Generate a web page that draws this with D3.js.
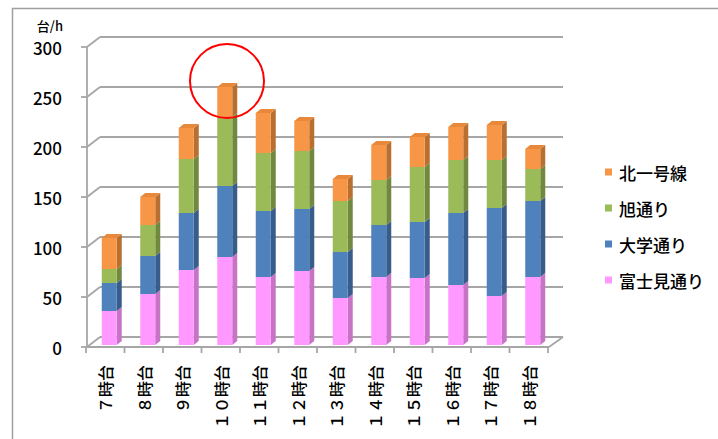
<!DOCTYPE html>
<html>
<head>
<meta charset="utf-8">
<script src="https://cdn.jsdelivr.net/npm/d3@7"></script>
<style>
  body { margin: 0; background: #fff; }
  svg text { font-family: "Noto Sans CJK JP", "Noto Sans", sans-serif; fill: #000; font-weight: 500; }
</style>
</head>
<body>
<svg id="chart" width="718" height="439"></svg>
<script>
"use strict";

// 時間帯 (x labels)
var hours = ['７時台', '８時台', '９時台', '１０時台', '１１時台', '１２時台',
  '１３時台', '１４時台', '１５時台', '１６時台', '１７時台', '１８時台'];
// 台/h per road
var fujimi = [34, 51, 75, 88, 68, 74, 47, 68, 67, 60, 49, 68];
var daigaku = [28, 38, 57, 71, 66, 62, 46, 52, 56, 72, 88, 76];
var asahi = [14, 31, 54, 69, 58, 58, 51, 45, 55, 53, 48, 32];
var kita = [31, 28, 31, 30, 40, 30, 22, 35, 30, 33, 35, 20];
var yTicks = [0, 50, 100, 150, 200, 250, 300];

var keys = ['fujimi', 'daigaku', 'asahi', 'kita'];
var names = { fujimi: '富士見通り', daigaku: '大学通り', asahi: '旭通り', kita: '北一号線' };
var colors = {
  fujimi: { front: '#ff99ff', side: '#c774c7', top: '#f08cf0' },
  daigaku: { front: '#4f81bd', side: '#385d8a', top: '#4674ac' },
  asahi: { front: '#9bbb59', side: '#71893f', top: '#8eab50' },
  kita: { front: '#f79646', side: '#b96f30', top: '#e8883a' }
};

function make_chart() {
  var svg = d3.select('#chart');
  var table = hours.map(function (h, i) {
    return { hour: h, fujimi: fujimi[i], daigaku: daigaku[i], asahi: asahi[i], kita: kita[i] };
  });

  var wallDx = 13, wallDy = -10;
  var barDx = 4, barDy = -2, barW = 15, depthX = 5, depthY = -4;
  var grid = '#a6a6a6';

  var _x = d3.scaleBand().domain(hours).range([86, 548]).padding(0);
  var _y = d3.scaleLinear().domain([0, 300]).range([347, 47]);

  // outer frame
  svg.append('rect')
    .attr('x', 12.5).attr('y', 8.5)
    .attr('width', 760).attr('height', 480)
    .attr('fill', '#fff').attr('stroke', '#a0a0a0').attr('stroke-width', 1.5);

  // back wall grid + side wall lines
  var walls = svg.append('g').attr('stroke', grid).attr('stroke-width', 1.8).attr('fill', 'none');
  yTicks.forEach(function (v) {
    var y = _y(v);
    walls.append('line')
      .attr('x1', 87 + wallDx).attr('y1', y + wallDy)
      .attr('x2', 563).attr('y2', y + wallDy);
    walls.append('line')
      .attr('x1', 87).attr('y1', y)
      .attr('x2', 87 + wallDx).attr('y2', y + wallDy);
    walls.append('line')
      .attr('x1', 81).attr('y1', y)
      .attr('x2', 87).attr('y2', y);
  });
  walls.append('line').attr('x1', 87).attr('y1', _y(300)).attr('x2', 87).attr('y2', _y(0));
  // floor front edge
  walls.append('line').attr('x1', 87).attr('y1', _y(0)).attr('x2', 549).attr('y2', _y(0));
  walls.append('line').attr('x1', 549).attr('y1', _y(0)).attr('x2', 563).attr('y2', _y(0) + wallDy);
  // category ticks
  var edges = hours.map(function (h) { return _x(h); }).concat([_x.range()[1]]);
  edges.forEach(function (ex) {
    walls.append('line').attr('x1', ex).attr('y1', _y(0)).attr('x2', ex).attr('y2', _y(0) + 6);
  });

  // stacked 3D bars
  var series = d3.stack().keys(keys)(table);
  var bars = svg.append('g');
  series.forEach(function (s, si) {
    var c = colors[s.key];
    s.forEach(function (d) {
      var x0 = _x(d.data.hour) + _x.bandwidth() / 2 - barW / 2 + barDx;
      var yb = _y(d[0]) + barDy;
      var yt = _y(d[1]) + barDy;
      var g = bars.append('g');
      g.append('polygon')
        .attr('points', [[x0 + barW, yt], [x0 + barW + depthX, yt + depthY],
          [x0 + barW + depthX, yb + depthY], [x0 + barW, yb]].join(' '))
        .attr('fill', c.side);
      g.append('rect')
        .attr('x', x0).attr('y', yt)
        .attr('width', barW).attr('height', yb - yt)
        .attr('fill', c.front);
      if (si === series.length - 1) {
        g.append('polygon')
          .attr('points', [[x0, yt], [x0 + depthX, yt + depthY],
            [x0 + barW + depthX, yt + depthY], [x0 + barW, yt]].join(' '))
          .attr('fill', c.top);
      }
    });
  });

  // y tick labels
  svg.append('g').selectAll('text')
    .data(yTicks).enter().append('text')
    .attr('x', 62).attr('y', function (d) { return _y(d); })
    .attr('text-anchor', 'end').attr('dominant-baseline', 'central')
    .attr('font-size', 17)
    .text(function (d) { return d; });

  svg.append('text')
    .attr('x', 63).attr('y', 25)
    .attr('text-anchor', 'end').attr('dominant-baseline', 'central')
    .attr('font-size', 13)
    .text('台/h');

  // x labels, rotated
  svg.append('g').selectAll('text')
    .data(hours).enter().append('text')
    .attr('transform', function (d) {
      return 'translate(' + (_x(d) + _x.bandwidth() / 2) + ',365) rotate(-90)';
    })
    .attr('text-anchor', 'end').attr('dominant-baseline', 'central')
    .attr('font-size', 16)
    .text(function (d) { return d; });

  // legend
  var legendKeys = ['kita', 'asahi', 'daigaku', 'fujimi'];
  var legend = svg.append('g');
  legendKeys.forEach(function (k, i) {
    var y = 172 + i * 36;
    legend.append('rect')
      .attr('x', 605).attr('y', y - 3.5).attr('width', 7).attr('height', 7)
      .attr('fill', colors[k].front);
    legend.append('text')
      .attr('x', 619).attr('y', y)
      .attr('dominant-baseline', 'central')
      .attr('font-size', 17)
      .text(names[k]);
  });

  // red circle marking the peak
  svg.append('circle')
    .attr('cx', 227).attr('cy', 81).attr('r', 37)
    .attr('fill', 'none').attr('stroke', '#ff0000').attr('stroke-width', 2);
}

make_chart();
</script>
</body>
</html>
